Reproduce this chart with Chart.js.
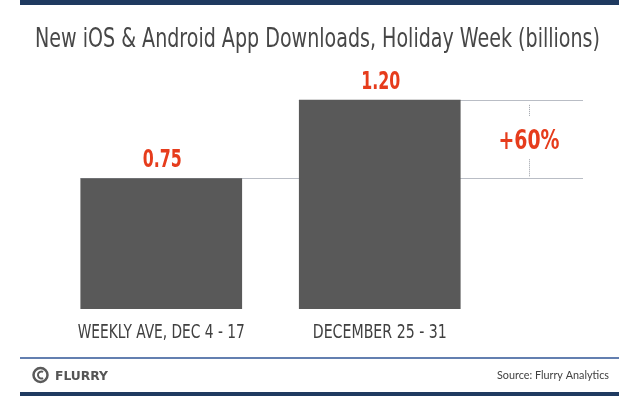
<!DOCTYPE html>
<html>
<head>
<meta charset="utf-8">
<script src="https://cdn.jsdelivr.net/npm/chart.js@4/dist/chart.umd.min.js"></script>
<style>
  html, body { margin: 0; padding: 0; background: #fff; }
  canvas { display: block; }
</style>
</head>
<body>
<canvas id="grafico" width="640" height="396"></canvas>
<script>
// Dados do gráfico
const categorias = ["WEEKLY AVE, DEC 4 - 17", "DECEMBER 25 - 31"];
const downloads = [0.75, 1.20];
const rotulosValores = ["0.75", "1.20"];
const rotuloCrescimento = "+60%";
const titulo = "New iOS & Android App Downloads, Holiday Week (billions)";
const fonte = "Source: Flurry Analytics";

const NARROW = '"Liberation Sans Narrow", "DejaVu Sans Condensed", "Liberation Sans", sans-serif';
const VERMELHO = "#e63c1c";
const AZUL = "#1f3a60";

// escreve texto comprimindo na horizontal se passar da largura desejada
function texto(ctx, str, x, y, font, cor, align, largura) {
  ctx.save();
  ctx.font = font;
  ctx.fillStyle = cor;
  ctx.textBaseline = "alphabetic";
  const w = ctx.measureText(str).width;
  const s = largura ? largura / w : 1;
  ctx.translate(x, y);
  ctx.scale(s, 1);
  ctx.textAlign = align;
  ctx.fillText(str, 0, 0);
  ctx.restore();
}

const decoracao = {
  id: "decoracao",
  beforeDatasetsDraw(chart) {
    const ctx = chart.ctx;
    const meta = chart.getDatasetMeta(0);
    const y = chart.scales.y;
    ctx.save();
    ctx.strokeStyle = "#b9bdc5";
    ctx.lineWidth = 1;
    downloads.forEach((v, i) => {
      const bar = meta.data[i];
      const py = Math.round(y.getPixelForValue(v)) + 0.5;
      ctx.beginPath();
      ctx.moveTo(bar.x - bar.width / 2, py);
      ctx.lineTo(583, py);
      ctx.stroke();
    });
    ctx.restore();
  },
  afterDatasetsDraw(chart) {
    const ctx = chart.ctx;
    const meta = chart.getDatasetMeta(0);
    const x = chart.scales.x;
    const y = chart.scales.y;

    // valores acima das barras
    rotulosValores.forEach((r, i) => {
      const bar = meta.data[i];
      texto(ctx, r, bar.x + 1, bar.y - 11, "bold 25px " + NARROW, VERMELHO, "center", 39);
    });

    // rótulos das categorias
    categorias.forEach((c, i) => {
      const px = x.getPixelForValue(i);
      const larg = i === 0 ? 167 : 134;
      texto(ctx, c, px, 338, "19px " + NARROW, "#404040", "center", larg);
    });

    // +60% e linhas pontilhadas
    const yTop = y.getPixelForValue(downloads[1]);
    const yBot = y.getPixelForValue(downloads[0]);
    ctx.save();
    ctx.strokeStyle = "#9a9ea6";
    ctx.lineWidth = 1;
    ctx.setLineDash([1, 1]);
    ctx.beginPath();
    ctx.moveTo(529.5, yTop + 5);
    ctx.lineTo(529.5, yTop + 17);
    ctx.moveTo(529.5, yBot - 19);
    ctx.lineTo(529.5, yBot - 2);
    ctx.stroke();
    ctx.restore();
    texto(ctx, rotuloCrescimento, 529, (yTop + yBot) / 2 + 10, "bold 27px " + NARROW, VERMELHO, "center", 61);
  },
  afterDraw(chart) {
    const ctx = chart.ctx;
    ctx.save();
    // faixas azuis
    ctx.fillStyle = AZUL;
    ctx.fillRect(20, 0, 599, 5);
    ctx.fillRect(20, 392, 599, 4);
    ctx.strokeStyle = "#2f5596";
    ctx.lineWidth = 1.5;
    ctx.beginPath();
    ctx.moveTo(20, 358);
    ctx.lineTo(619, 358);
    ctx.stroke();

    // logo
    ctx.strokeStyle = "#5a5a5a";
    ctx.lineWidth = 2.5;
    ctx.beginPath();
    ctx.arc(40.5, 375, 7, 0, Math.PI * 2);
    ctx.stroke();
    ctx.lineWidth = 2;
    ctx.beginPath();
    ctx.arc(41.5, 375, 3.5, Math.PI * 0.35, Math.PI * 1.65);
    ctx.stroke();
    ctx.restore();
    texto(ctx, "FLURRY", 55, 380, "bold 12px 'DejaVu Sans'", "#555", "left", 53);

    texto(ctx, fonte, 609, 379, "11px Lato, 'Liberation Sans', sans-serif", "#404040", "right", 112);

    // título
    texto(ctx, titulo, 317.5, 47, "27px " + NARROW, "#474747", "center", 565);
  }
};

new Chart(document.getElementById("grafico"), {
  type: "bar",
  data: {
    labels: categorias,
    datasets: [{
      data: downloads,
      backgroundColor: "#595959",
      barPercentage: 0.74,
      categoryPercentage: 1
    }]
  },
  options: {
    responsive: false,
    animation: false,
    devicePixelRatio: 1,
    layout: { padding: { left: 52, right: 151, top: 65, bottom: 87 } },
    scales: {
      x: { display: false },
      y: { display: false, min: 0, max: 1.4 }
    },
    plugins: {
      legend: { display: false },
      tooltip: { enabled: false }
    }
  },
  plugins: [decoracao]
});
</script>
</body>
</html>
